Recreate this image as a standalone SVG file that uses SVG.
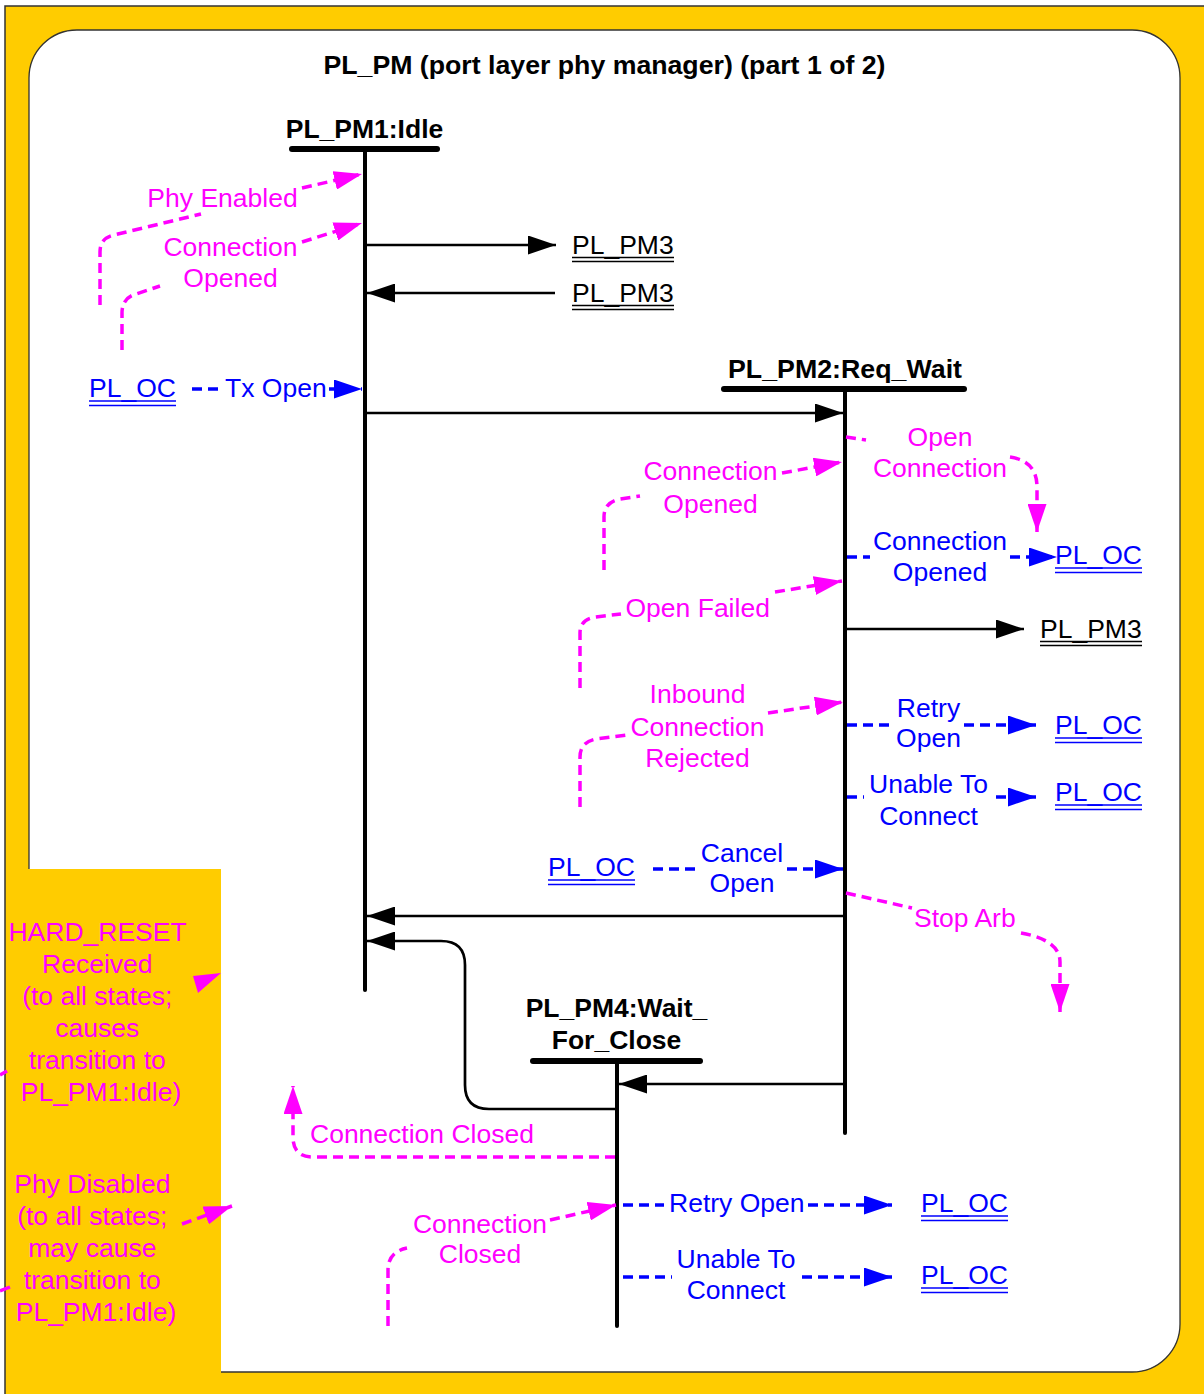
<svg xmlns="http://www.w3.org/2000/svg" width="1204" height="1394" viewBox="0 0 1204 1394">
<style>
.t{font-family:"Liberation Sans",Arial,sans-serif;font-size:26.5px}
.b{font-weight:bold}
.ti{font-size:26.7px}
.k{fill:#000}
.m{fill:#FF00FF}
.u{fill:#0000FF}
.bar{stroke:#000;stroke-width:6;stroke-linecap:round;fill:none}
.life{stroke:#000;stroke-width:4;stroke-linecap:round;fill:none}
.blk{stroke:#000;stroke-width:2.7;fill:none}
.mag{stroke:#FF00FF;stroke-width:3.5;stroke-dasharray:10 6;fill:none}
.blu{stroke:#0000FF;stroke-width:3.5;stroke-dasharray:10 6;fill:none}
.ulk{stroke:#000;stroke-width:1.6}
.ulb{stroke:#0000FF;stroke-width:1.6}
</style>
<defs>
<marker id="ak" markerUnits="userSpaceOnUse" markerWidth="28" markerHeight="19" viewBox="0 0 28 19" refX="28" refY="9.5" orient="auto"><path d="M0,0 L28,9.5 L0,19 Z" fill="#000"/></marker>
<marker id="am" markerUnits="userSpaceOnUse" markerWidth="28" markerHeight="19" viewBox="0 0 28 19" refX="28" refY="9.5" orient="auto"><path d="M0,0 L28,9.5 L0,19 Z" fill="#FF00FF"/></marker>
<marker id="ab" markerUnits="userSpaceOnUse" markerWidth="28" markerHeight="19" viewBox="0 0 28 19" refX="28" refY="9.5" orient="auto"><path d="M0,0 L28,9.5 L0,19 Z" fill="#0000FF"/></marker>
</defs>

<rect x="0" y="0" width="1204" height="1394" fill="#FFFFFF"/>
<rect x="5" y="6" width="1215" height="1400" fill="#FFCC00" stroke="#333" stroke-width="1.5"/>
<rect x="29" y="30" width="1151" height="1342" rx="48" ry="48" fill="#FFFFFF" stroke="#333" stroke-width="1.3"/>
<rect x="6" y="869" width="215" height="530" fill="#FFCC00"/>

<text class="t ti b k" x="604.5" y="74" text-anchor="middle">PL_PM (port layer phy manager) (part 1 of 2)</text>

<g id="state1">
<text class="t b k" x="364.5" y="138" text-anchor="middle">PL_PM1:Idle</text>
<line class="bar" x1="292" y1="149" x2="437" y2="149"/>
<line class="life" x1="365" y1="150" x2="365" y2="990"/>
</g>

<g id="state2">
<text class="t b k" x="845" y="378" text-anchor="middle" textLength="234" lengthAdjust="spacingAndGlyphs">PL_PM2:Req_Wait</text>
<line class="bar" x1="724" y1="389" x2="964" y2="389"/>
<line class="life" x1="845" y1="390" x2="845" y2="1133"/>
</g>

<g id="state4">
<text class="t b k" x="616.5" y="1017" text-anchor="middle">PL_PM4:Wait_</text>
<text class="t b k" x="616.5" y="1049" text-anchor="middle">For_Close</text>
<line class="bar" x1="533" y1="1061" x2="700" y2="1061"/>
<line class="life" x1="617" y1="1062" x2="617" y2="1326"/>
</g>

<g id="ref-pm3-a">
<text class="t k" x="572" y="254">PL_PM3</text>
<line class="ulk" x1="572" y1="257.5" x2="674" y2="257.5"/>
<line class="ulk" x1="572" y1="261.5" x2="674" y2="261.5"/>
</g>
<g id="ref-pm3-b">
<text class="t k" x="572" y="302">PL_PM3</text>
<line class="ulk" x1="572" y1="305.5" x2="674" y2="305.5"/>
<line class="ulk" x1="572" y1="309.5" x2="674" y2="309.5"/>
</g>
<g id="ref-pm3-c">
<text class="t k" x="1040" y="638">PL_PM3</text>
<line class="ulk" x1="1040" y1="641.5" x2="1142" y2="641.5"/>
<line class="ulk" x1="1040" y1="645.5" x2="1142" y2="645.5"/>
</g>

<g id="ref-oc-a">
<text class="t u" x="89" y="397">PL_OC</text>
<line class="ulb" x1="89" y1="401" x2="176" y2="401"/>
<line class="ulb" x1="89" y1="405.5" x2="176" y2="405.5"/>
</g>
<g id="ref-oc-b">
<text class="t u" x="1055" y="564">PL_OC</text>
<line class="ulb" x1="1055" y1="568" x2="1142" y2="568"/>
<line class="ulb" x1="1055" y1="572.5" x2="1142" y2="572.5"/>
</g>
<g id="ref-oc-c">
<text class="t u" x="1055" y="734">PL_OC</text>
<line class="ulb" x1="1055" y1="738" x2="1142" y2="738"/>
<line class="ulb" x1="1055" y1="742.5" x2="1142" y2="742.5"/>
</g>
<g id="ref-oc-d">
<text class="t u" x="1055" y="801">PL_OC</text>
<line class="ulb" x1="1055" y1="805" x2="1142" y2="805"/>
<line class="ulb" x1="1055" y1="809.5" x2="1142" y2="809.5"/>
</g>
<g id="ref-oc-e">
<text class="t u" x="548" y="876">PL_OC</text>
<line class="ulb" x1="548" y1="880" x2="635" y2="880"/>
<line class="ulb" x1="548" y1="884.5" x2="635" y2="884.5"/>
</g>
<g id="ref-oc-f">
<text class="t u" x="921" y="1212">PL_OC</text>
<line class="ulb" x1="921" y1="1216" x2="1008" y2="1216"/>
<line class="ulb" x1="921" y1="1220.5" x2="1008" y2="1220.5"/>
</g>
<g id="ref-oc-g">
<text class="t u" x="921" y="1284">PL_OC</text>
<line class="ulb" x1="921" y1="1288" x2="1008" y2="1288"/>
<line class="ulb" x1="921" y1="1292.5" x2="1008" y2="1292.5"/>
</g>

<g id="note-hard-reset">
<text class="t m" text-anchor="middle">
<tspan x="101" y="941">HARD_RESET</tspan>
<tspan x="101" y="973">Received</tspan>
<tspan x="101" y="1005">(to all states;</tspan>
<tspan x="101" y="1037">causes</tspan>
<tspan x="101" y="1069">transition to</tspan>
<tspan x="101" y="1101">PL_PM1:Idle)</tspan>
</text>
</g>
<g id="note-phy-disabled">
<text class="t m" text-anchor="middle">
<tspan x="96" y="1193">Phy Disabled</tspan>
<tspan x="96" y="1225">(to all states;</tspan>
<tspan x="96" y="1257">may cause</tspan>
<tspan x="96" y="1289">transition to</tspan>
<tspan x="96" y="1321">PL_PM1:Idle)</tspan>
</text>
</g>

<g id="connectors">
<path class="mag" d="M100,305 L100,252 Q100,238 114,235 L201,214"/>
<path class="mag" d="M302,188 L362,174" marker-end="url(#am)"/>
<text class="t m" x="222.5" y="207" text-anchor="middle">Phy Enabled</text>
<path class="mag" d="M122,350 L122,313 Q122,298 136,294 L160,286"/>
<path class="mag" d="M302,242 L362,223" marker-end="url(#am)"/>
<text class="t m" text-anchor="middle"><tspan x="230.5" y="256">Connection</tspan><tspan x="230.5" y="287">Opened</tspan></text>
<path class="blu" d="M192,389 L222,389"/>
<path class="blu" d="M329,389 L362,389" marker-end="url(#ab)"/>
<text class="t u" x="225" y="397">Tx Open</text>
<path class="blk" d="M367,245 L556,245" marker-end="url(#ak)"/>
<path class="blk" d="M555,293 L367,293" marker-end="url(#ak)"/>
<path class="blk" d="M367,413 L843,413" marker-end="url(#ak)"/>
<path class="mag" d="M846,437 L866,440"/>
<path class="mag" d="M1010,457 Q1037,461 1037,487 L1037,532" marker-end="url(#am)"/>
<text class="t m" text-anchor="middle"><tspan x="940" y="446">Open</tspan><tspan x="940" y="477">Connection</tspan></text>
<path class="mag" d="M604,570 L604,517 Q604,502 620,499 L640,496"/>
<path class="mag" d="M782,473 L842,462" marker-end="url(#am)"/>
<text class="t m" text-anchor="middle"><tspan x="710.5" y="480">Connection</tspan><tspan x="710.5" y="513">Opened</tspan></text>
<path class="blu" d="M847,557 L870,557"/>
<path class="blu" d="M1010,557 L1057,557" marker-end="url(#ab)"/>
<text class="t u" text-anchor="middle"><tspan x="940" y="550">Connection</tspan><tspan x="940" y="581">Opened</tspan></text>
<path class="mag" d="M580,688 L580,633 Q580,619 596,617 L621,614"/>
<path class="mag" d="M775,592 L842,581" marker-end="url(#am)"/>
<text class="t m" x="625.5" y="617">Open Failed</text>
<path class="blk" d="M847,629 L1024,629" marker-end="url(#ak)"/>
<path class="mag" d="M580,807 L580,757 Q580,742 596,739 L628,735"/>
<path class="mag" d="M768,713 L843,702" marker-end="url(#am)"/>
<text class="t m" text-anchor="middle"><tspan x="697.5" y="703">Inbound</tspan><tspan x="697.5" y="736">Connection</tspan><tspan x="697.5" y="767">Rejected</tspan></text>
<path class="blu" d="M847,725 L893,725"/>
<path class="blu" d="M964,725 L1036,725" marker-end="url(#ab)"/>
<text class="t u" text-anchor="middle"><tspan x="928.5" y="717">Retry</tspan><tspan x="928.5" y="747">Open</tspan></text>
<path class="blu" d="M847,797 L864,797"/>
<path class="blu" d="M996,797 L1036,797" marker-end="url(#ab)"/>
<text class="t u" text-anchor="middle"><tspan x="928.5" y="793">Unable To</tspan><tspan x="928.5" y="825">Connect</tspan></text>
<path class="blu" d="M653,869 L698,869"/>
<path class="blu" d="M787,869 L843,869" marker-end="url(#ab)"/>
<text class="t u" text-anchor="middle"><tspan x="742" y="862">Cancel</tspan><tspan x="742" y="892">Open</tspan></text>
<path class="mag" d="M846,893 L912,908"/>
<path class="mag" d="M1021,933 Q1060,940 1060,962 L1060,1012" marker-end="url(#am)"/>
<text class="t m" x="914" y="927">Stop Arb</text>
<path class="blk" d="M845,916 L367,916" marker-end="url(#ak)"/>
<path class="blk" d="M617,1109 L489,1109 Q465,1109 465,1085 L465,965 Q465,941 441,941 L367,941" marker-end="url(#ak)"/>
<path class="blk" d="M845,1084 L619,1084" marker-end="url(#ak)"/>
<path class="mag" d="M615,1157 L313,1157 Q293,1157 293,1137 L293,1086" marker-end="url(#am)"/>
<text class="t m" x="310" y="1143">Connection Closed</text>
<path class="mag" d="M388,1326 L388,1270 Q388,1252 407,1248"/>
<path class="mag" d="M550,1220 L616,1205" marker-end="url(#am)"/>
<text class="t m" text-anchor="middle"><tspan x="480" y="1233">Connection</tspan><tspan x="480" y="1263">Closed</tspan></text>
<path class="blu" d="M623,1205 L664,1205"/>
<path class="blu" d="M808,1205 L892,1205" marker-end="url(#ab)"/>
<text class="t u" x="669" y="1212">Retry Open</text>
<path class="blu" d="M623,1277 L672,1277"/>
<path class="blu" d="M802,1277 L892,1277" marker-end="url(#ab)"/>
<text class="t u" text-anchor="middle"><tspan x="736" y="1268">Unable To</tspan><tspan x="736" y="1299">Connect</tspan></text>
<polygon points="193,976 221,973 198,993" fill="#FF00FF"/>
<path class="mag" d="M182,1224 L232,1206" marker-end="url(#am)"/>
<path d="M0,1075 L7,1071" stroke="#FF00FF" stroke-width="3.5"/>
<path d="M0,1291 L10,1287" stroke="#FF00FF" stroke-width="3.5"/>
</g>
</svg>
